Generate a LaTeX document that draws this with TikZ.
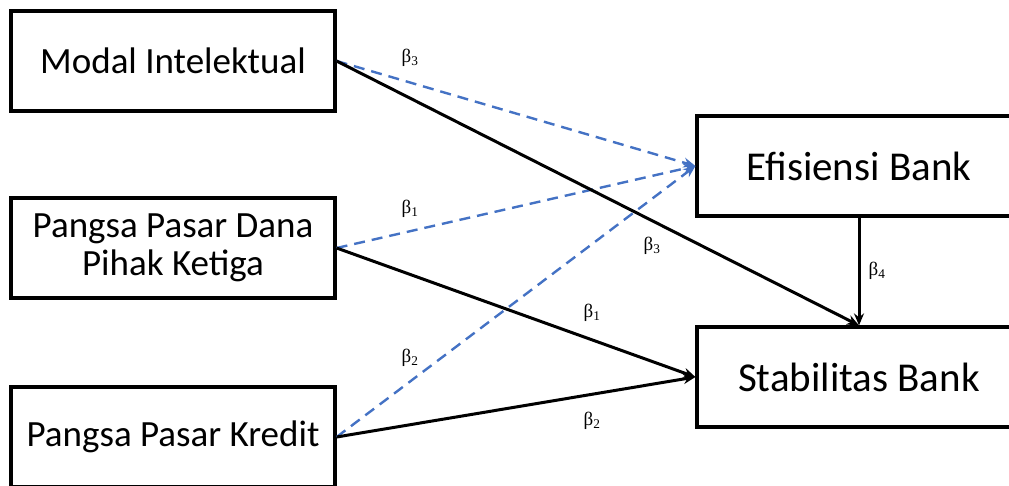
\documentclass[tikz,border=0pt]{standalone}
\usepackage{fontspec}
\setmainfont{Carlito}
\newfontfamily\betafont{Liberation Serif}
\usetikzlibrary{arrows.meta}
\definecolor{dblue}{HTML}{4472C4}
\begin{document}
\begin{tikzpicture}[x=1pt,y=-1pt,
  lbox/.style={draw=black,line width=3.2pt,minimum width=324pt,minimum height=100pt,inner sep=0pt,font=\fontsize{37}{41}\selectfont,align=center},
  rbox/.style={lbox,font=\fontsize{41}{45}\selectfont},
  solidarr/.style={line width=3pt,-{Stealth[length=12pt,width=10pt]}},
  dasharr/.style={dblue,line width=2.4pt,dash pattern=on 11pt off 7pt,-{Stealth[length=12pt,width=10pt]}},
  blab/.style={font=\betafont\fontsize{19}{21}\selectfont,inner sep=0pt}]
\useasboundingbox (0,0) rectangle (1009,485);
\clip (0,0) rectangle (1009,485);
\node[lbox] (mi) at (173,61) {Modal Intelektual};
\node[lbox] (dpk) at (173,248) {Pangsa Pasar Dana\\[-3pt]Pihak Ketiga};
\node[lbox] (kr) at (173,437) {Pangsa Pasar Kredit};
\node[rbox] (ef) at (859,166) {Efisiensi Bank};
\node[rbox] (st) at (859,377) {Stabilitas Bank};
\draw[dasharr] (mi.east) -- (ef.west);
\draw[dasharr] (dpk.east) -- (ef.west);
\draw[dasharr] (kr.east) -- (ef.west);
\draw[solidarr] (mi.east) -- (st.north);
\draw[solidarr] (dpk.east) -- (st.west);
\draw[solidarr] (kr.east) -- (st.west);
\draw[solidarr] (ef.south) -- (st.north);
\node[blab] (b3a) at (410,58) {β\textsubscript{3}};
\node[blab] (b1a) at (410,209) {β\textsubscript{1}};
\node[blab] (b2a) at (410,358) {β\textsubscript{2}};
\node[blab] (b3b) at (652,246) {β\textsubscript{3}};
\node[blab] (b1b) at (592,313) {β\textsubscript{1}};
\node[blab] (b2b) at (592,421) {β\textsubscript{2}};
\node[blab] (b4) at (877,271) {β\textsubscript{4}};
\end{tikzpicture}
\end{document}
